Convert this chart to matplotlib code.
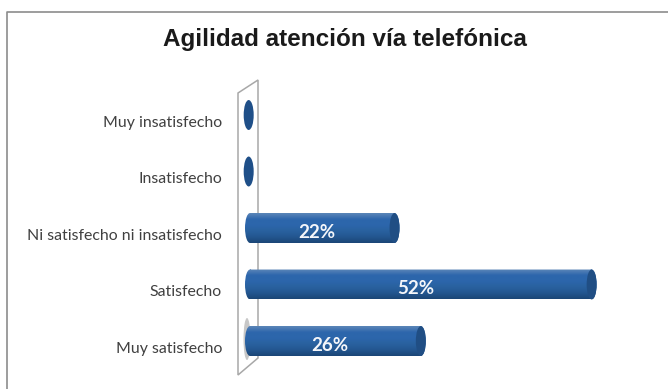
"""Horizontal cylinder bar chart: Agilidad atencion via telefonica."""

import matplotlib

matplotlib.use("Agg")

import matplotlib.pyplot as plt
import numpy as np
from matplotlib.colors import LinearSegmentedColormap
from matplotlib.patches import Ellipse, Polygon
from matplotlib.path import Path
from matplotlib.transforms import ScaledTranslation

TITLE = "Agilidad atención vía telefónica"
categories = [
    "Muy insatisfecho",
    "Insatisfecho",
    "Ni satisfecho ni insatisfecho",
    "Satisfecho",
    "Muy satisfecho",
]
values = [0, 0, 22, 52, 26]

W, H = 668, 389
PX_PER_PCT = 6.57
BAR_H = 0.53
CAP_W = 10 / PX_PER_PCT

body_cmap = LinearSegmentedColormap.from_list(
    "body", ["#5c86b8", "#2d66ac", "#2c66ab", "#29619f", "#235690", "#1b4676"]
)

fig = plt.figure(figsize=(W / 100, H / 100), dpi=100)

# frame and back wall live on a pixel-sized overlay
bg = fig.add_axes([0, 0, 1, 1])
bg.set_xlim(0, W)
bg.set_ylim(H, 0)
bg.axis("off")
bg.plot([7, 7, W], [H, 12, 12], color="#8c8c8c", linewidth=1.2)
bg.add_patch(Polygon([(238, 93), (258, 80), (258, 358), (238, 375)], closed=True,
                     facecolor="white", edgecolor="#a8a8a8", linewidth=1.1))
bg.add_patch(Ellipse((247, 339), 7, 42, facecolor="#9a9a9a", edgecolor="none", alpha=0.55))
bg.text(345, 39, TITLE, ha="center", va="center", fontsize=17.5, fontweight="bold",
        family="Liberation Sans", color="#1a1a1a")

# plot area lined up with the wall
left_px, right_px, top_px, bottom_px = 240, 660, 86.75, 369.25
ax = fig.add_axes([left_px / W, 1 - bottom_px / H, (right_px - left_px) / W, (bottom_px - top_px) / H])
ax.patch.set_alpha(0)
for spine in ax.spines.values():
    spine.set_visible(False)

y_pos = np.arange(len(categories))
bars = ax.barh(y_pos, values, height=BAR_H, color="#2c66ab", zorder=2)
ax.set_xlim(-10 / PX_PER_PCT, (right_px - 250) / PX_PER_PCT)
xlim = ax.get_xlim()

gradient = np.linspace(0, 1, 64).reshape(-1, 1)
for bar, y, value, name in zip(bars, y_pos, values, categories):
    if value == 0:
        ax.add_patch(Ellipse((-0.2, y), CAP_W, BAR_H, facecolor="#1f4f88", edgecolor="none", zorder=3))
        continue
    # gradient body with a rounded left end, then the darker end cap
    left_end = Ellipse((0, y), CAP_W, BAR_H)
    right_end = Ellipse((value, y), CAP_W, BAR_H)
    outline = Path.make_compound_path(
        bar.get_path().transformed(bar.get_patch_transform()),
        left_end.get_path().transformed(left_end.get_patch_transform()),
        right_end.get_path().transformed(right_end.get_patch_transform()),
    )
    img = ax.imshow(gradient, cmap=body_cmap, aspect="auto", zorder=3,
                    extent=(-CAP_W, value + CAP_W, y + BAR_H / 2, y - BAR_H / 2))
    img.set_clip_path(outline, ax.transData)
    ax.add_patch(Ellipse((value, y), CAP_W, BAR_H, facecolor="#204e84", edgecolor="none", zorder=4))
    ax.annotate(f"{value}%", (value / 2, y), xytext=(-4, -3), textcoords="offset points",
                ha="center", va="center", color="#f4f6fa", fontsize=13.5, fontweight="bold",
                family="Lato", zorder=5)

ax.set_xlim(xlim)
ax.set_ylim(len(categories) - 0.5, -0.5)
ax.set_xticks([])
ax.set_yticks(y_pos, categories, family="Lato", fontsize=11.4, color="#404040")
ax.tick_params(axis="y", length=0, pad=13)
shift = ScaledTranslation(0, -6 / 100, fig.dpi_scale_trans)
for label in ax.get_yticklabels():
    label.set_transform(label.get_transform() + shift)

fig.savefig("out.png", dpi=100)
plt.close(fig)
